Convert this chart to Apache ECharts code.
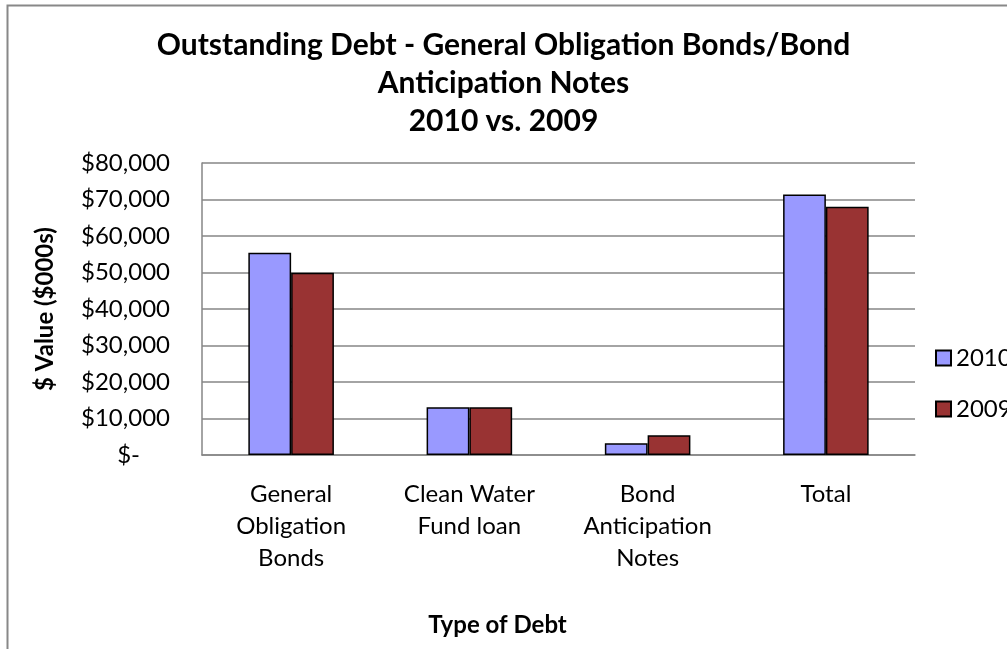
<!DOCTYPE html>
<html>
<head>
<meta charset="utf-8">
<script src="https://cdn.jsdelivr.net/npm/echarts@6/dist/echarts.min.js"></script>
<style>
html,body{margin:0;padding:0;background:#fff;}
#chart{width:1007px;height:649px;}
</style>
</head>
<body>
<div id="chart"></div>
<script>
const categories = ['General\nObligation\nBonds', 'Clean Water\nFund loan', 'Bond\nAnticipation\nNotes', 'Total'];
const seriesNames = ['2010', '2009'];
const values2010 = [55400, 13100, 3200, 71400];
const values2009 = [49900, 13100, 5400, 68000];
const yTicks = { min: 0, max: 80000, interval: 10000 };
const titleText = 'Outstanding Debt - General Obligation Bonds/Bond\nAnticipation Notes\n2010 vs. 2009';
const yAxisTitle = '$ Value ($000s)';
const xAxisTitle = 'Type of Debt';

const FONT = 'Lato';
function fmt(v) {
  if (v === 0) return '{z|$-}';
  return '$' + String(v).replace(/\B(?=(\d{3})+(?!\d))/g, ',');
}

const chart = echarts.init(document.getElementById('chart'), null, { renderer: 'canvas' });
chart.setOption({
  animation: false,
  backgroundColor: '#fff',
  title: {
    text: titleText,
    left: 'center',
    top: 26,
    padding: [0, 0, 0, 13],
    textStyle: { fontFamily: FONT, fontWeight: 'bold', fontSize: 30, lineHeight: 38, color: '#000', align: 'center' }
  },
  legend: {
    orient: 'vertical',
    left: 935,
    top: 346,
    padding: 0,
    itemWidth: 15,
    itemHeight: 15,
    itemGap: 27,
    icon: 'rect',
    data: seriesNames,
    textStyle: { fontFamily: FONT, fontSize: 24, lineHeight: 24, color: '#000' }
  },
  grid: { left: 202, top: 163, right: 92, bottom: 194, containLabel: false },
  xAxis: {
    type: 'category',
    data: categories,
    name: xAxisTitle,
    nameLocation: 'middle',
    nameGap: 158,
    nameTextStyle: { fontFamily: FONT, fontWeight: 'bold', fontSize: 24, color: '#000', padding: [0, 122, 0, 0] },
    axisLine: { lineStyle: { color: '#868686', width: 1.5 } },
    axisTick: { show: false },
    axisLabel: { fontFamily: FONT, fontSize: 24, lineHeight: 32, color: '#000', margin: 23, interval: 0 }
  },
  yAxis: {
    type: 'value',
    min: yTicks.min,
    max: yTicks.max,
    interval: yTicks.interval,
    name: yAxisTitle,
    nameLocation: 'middle',
    nameRotate: 90,
    nameGap: 145,
    nameTextStyle: { fontFamily: FONT, fontWeight: 'bold', fontSize: 24, color: '#000' },
    axisLine: { show: true, lineStyle: { color: '#868686', width: 1.5 } },
    axisTick: { show: false },
    splitLine: { lineStyle: { color: '#868686', width: 1.5 } },
    axisLabel: {
      fontFamily: FONT, fontSize: 24, color: '#000', margin: 32,
      formatter: fmt,
      rich: { z: { fontFamily: FONT, fontSize: 24, color: '#000', padding: [0, 30, 0, 0] } }
    }
  },
  series: [
    {
      name: seriesNames[0], type: 'bar', data: values2010,
      barGap: '0%', barCategoryGap: '52%',
      itemStyle: { color: '#9999FF', borderColor: '#000', borderWidth: 1.5 }
    },
    {
      name: seriesNames[1], type: 'bar', data: values2009,
      barGap: '0%', barCategoryGap: '52%',
      itemStyle: { color: '#993333', borderColor: '#000', borderWidth: 1.5 }
    }
  ],
  graphic: [
    { type: 'rect', left: 5, top: 3, shape: { width: 1200, height: 800 }, style: { fill: 'none', stroke: '#888', lineWidth: 2 }, silent: true }
  ]
});
</script>
</body>
</html>
